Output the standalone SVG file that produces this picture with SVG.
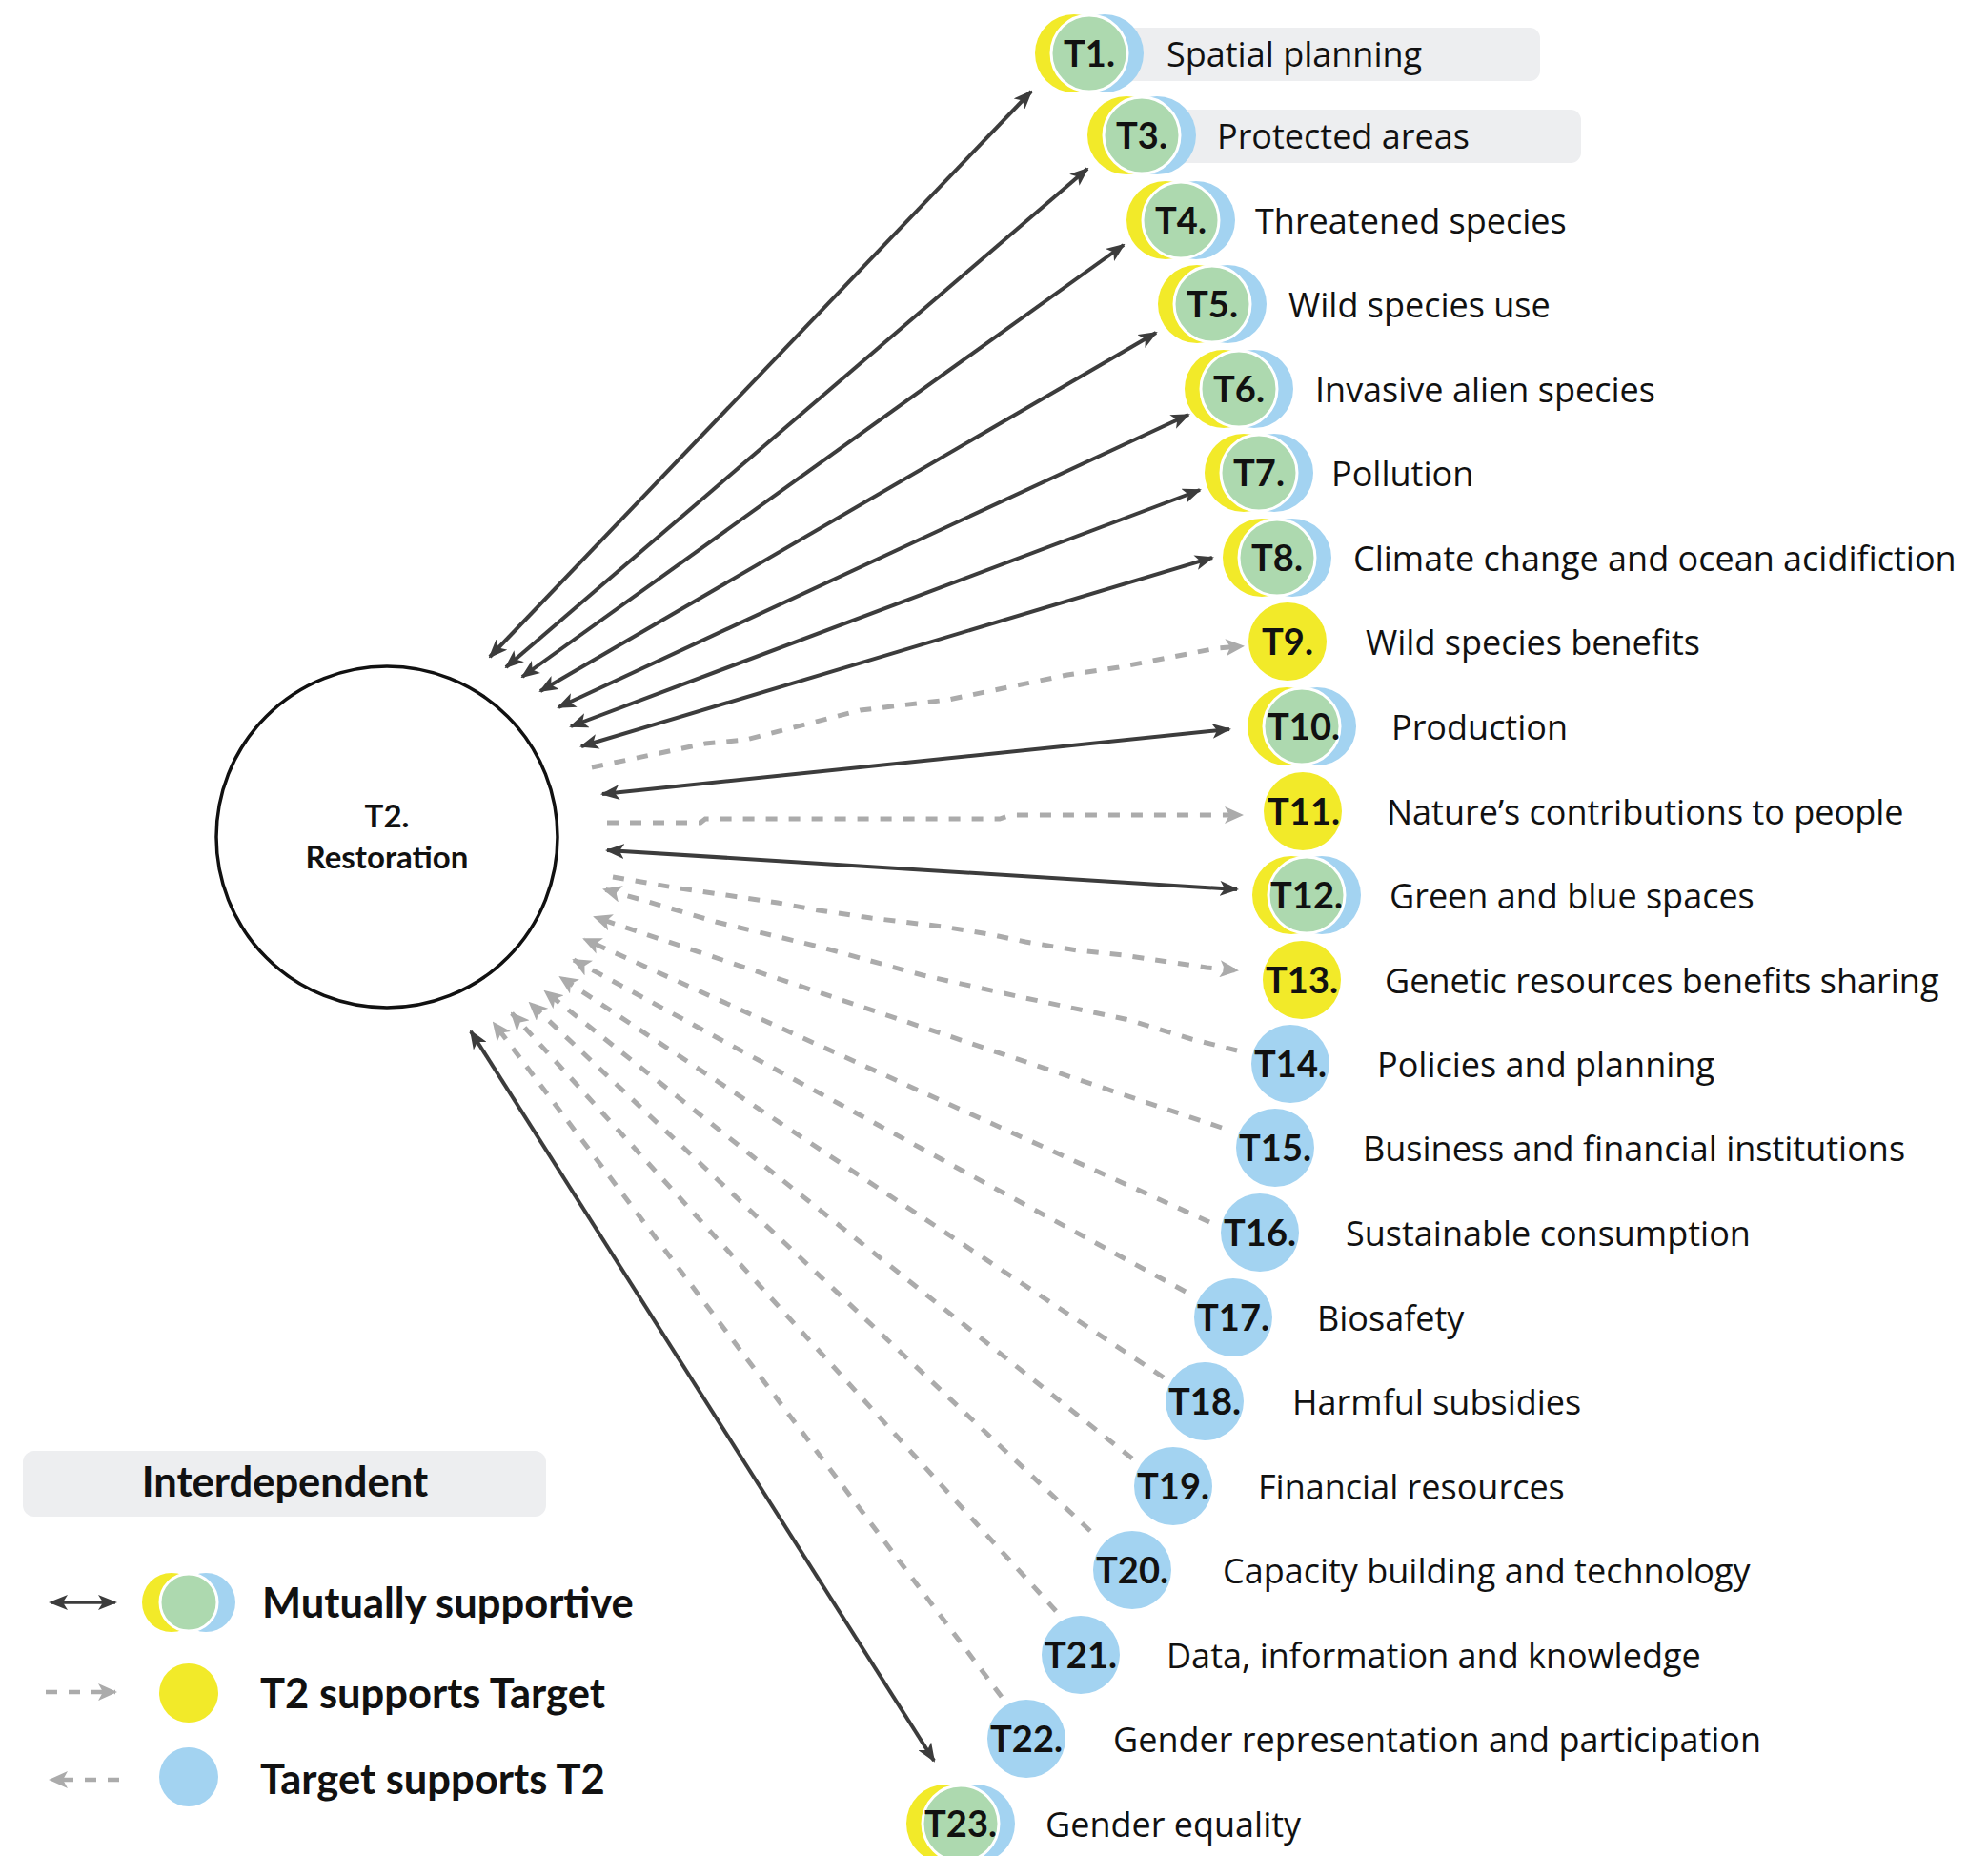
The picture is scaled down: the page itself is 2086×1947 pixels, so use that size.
<svg xmlns="http://www.w3.org/2000/svg" width="2086" height="1947" viewBox="0 0 2086 1947">
<style>
.lbl{font-family:"Open Sans","DejaVu Sans",sans-serif;font-size:36px;fill:#111}
.id{font-family:Lato,"Liberation Sans",sans-serif;font-weight:700;font-size:38px;fill:#111;text-anchor:middle}
.lg{font-family:Lato,"Liberation Sans",sans-serif;font-weight:700;font-size:43.5px;fill:#111}
.box{fill:#EDEEF0}
.y{fill:#F2EA29}
.g{fill:#ADD9AF;stroke:#fff;stroke-width:3}
.b{fill:#A3D3F1}
.sol{fill:none;stroke:#3C3C3C;stroke-width:4;marker-start:url(#ad);marker-end:url(#ad)}
.dsh{fill:none;stroke:#ABABAB;stroke-width:5;stroke-dasharray:12 12;marker-end:url(#ag)}
</style>
<defs>
<marker id="ad" viewBox="0 0 20 16" markerWidth="20" markerHeight="16" refX="18" refY="8" orient="auto-start-reverse" markerUnits="userSpaceOnUse"><path d="M0,0 L20,8 L0,16 L5,8 Z" fill="#3C3C3C"/></marker>
<marker id="ag" viewBox="0 0 20 18" markerWidth="20" markerHeight="18" refX="18" refY="9" orient="auto" markerUnits="userSpaceOnUse"><path d="M0,0 L20,9 L0,18 L5,9 Z" fill="#ABABAB"/></marker>
</defs>
<rect width="2086" height="1947" fill="#fff"/>

<g id="connectors">
<line class="sol" x1="514" y1="689" x2="1082" y2="96"/>
<line class="sol" x1="531" y1="700" x2="1141" y2="177"/>
<line class="sol" x1="548" y1="710" x2="1179" y2="257"/>
<line class="sol" x1="567" y1="725" x2="1213" y2="349"/>
<line class="sol" x1="586" y1="742" x2="1247" y2="435"/>
<line class="sol" x1="599" y1="762" x2="1259" y2="514"/>
<line class="sol" x1="610" y1="783" x2="1272" y2="585"/>
<polyline class="dsh" points="621,805 740,780 783,776 903,745 995,734 1120,708 1174,700 1277,680 1304,678"/>
<line class="sol" x1="632" y1="833" x2="1290" y2="765"/>
<polyline class="dsh" points="637,863 735,863 740,859 1049,859 1061,855 1303,855"/>
<line class="sol" x1="637" y1="892" x2="1298" y2="933"/>
<polyline class="dsh" points="643,920 713,932 762,939 816,947 859,955 914,963 989,972 1038,980 1076,988 1130,997 1179,1002 1266,1015 1298,1018"/>
<polyline class="dsh" points="1298,1102 1250,1090 1185,1070 1076,1047 968,1023 859,993 751,967 670,943 634,933"/>
<line class="dsh" x1="1282" y1="1183" x2="624" y2="962"/>
<line class="dsh" x1="1269" y1="1282" x2="613" y2="985"/>
<line class="dsh" x1="1244" y1="1355" x2="602" y2="1007"/>
<line class="dsh" x1="1221" y1="1445" x2="588" y2="1025"/>
<line class="dsh" x1="1188" y1="1530" x2="572" y2="1040"/>
<line class="dsh" x1="1144" y1="1606" x2="556" y2="1052"/>
<line class="dsh" x1="1108" y1="1690" x2="537" y2="1063"/>
<line class="dsh" x1="1051" y1="1780" x2="518" y2="1073"/>
<line class="sol" x1="494" y1="1082" x2="980" y2="1847"/>
</g>

<g id="T2">
<circle cx="406" cy="878" r="179" fill="#fff" stroke="#111" stroke-width="3.5"/>
<text class="id" x="406" y="868" style="font-size:33px">T2.</text>
<text class="id" x="406" y="911" style="font-size:33px">Restoration</text>
</g>

<g id="T1"><rect class="box" x="1143" y="29" width="473" height="56" rx="11"/><circle class="b" cx="1159" cy="56" r="41"/><circle class="y" cx="1127" cy="56" r="41"/><circle class="g" cx="1143" cy="56" r="40"/><text class="id" x="1143" y="70">T1.</text><text class="lbl" x="1224" y="70">Spatial planning</text></g>
<g id="T3"><rect class="box" x="1198" y="115" width="461" height="56" rx="11"/><circle class="b" cx="1214" cy="142" r="41"/><circle class="y" cx="1182" cy="142" r="41"/><circle class="g" cx="1198" cy="142" r="40"/><text class="id" x="1198" y="156">T3.</text><text class="lbl" x="1277" y="156">Protected areas</text></g>
<g id="T4"><circle class="b" cx="1255" cy="231" r="41"/><circle class="y" cx="1223" cy="231" r="41"/><circle class="g" cx="1239" cy="231" r="40"/><text class="id" x="1239" y="245">T4.</text><text class="lbl" x="1317" y="245">Threatened species</text></g>
<g id="T5"><circle class="b" cx="1288" cy="319" r="41"/><circle class="y" cx="1256" cy="319" r="41"/><circle class="g" cx="1272" cy="319" r="40"/><text class="id" x="1272" y="333">T5.</text><text class="lbl" x="1352" y="333">Wild species use</text></g>
<g id="T6"><circle class="b" cx="1316" cy="408" r="41"/><circle class="y" cx="1284" cy="408" r="41"/><circle class="g" cx="1300" cy="408" r="40"/><text class="id" x="1300" y="422">T6.</text><text class="lbl" x="1380" y="422">Invasive alien species</text></g>
<g id="T7"><circle class="b" cx="1337" cy="496" r="41"/><circle class="y" cx="1305" cy="496" r="41"/><circle class="g" cx="1321" cy="496" r="40"/><text class="id" x="1321" y="510">T7.</text><text class="lbl" x="1397" y="510">Pollution</text></g>
<g id="T8"><circle class="b" cx="1356" cy="585" r="41"/><circle class="y" cx="1324" cy="585" r="41"/><circle class="g" cx="1340" cy="585" r="40"/><text class="id" x="1340" y="599">T8.</text><text class="lbl" x="1420" y="599">Climate change and ocean acidifiction</text></g>
<g id="T9"><circle class="y" cx="1351" cy="673" r="41"/><text class="id" x="1351" y="687">T9.</text><text class="lbl" x="1433" y="687">Wild species benefits</text></g>
<g id="T10"><circle class="b" cx="1382" cy="762" r="41"/><circle class="y" cx="1350" cy="762" r="41"/><circle class="g" cx="1366" cy="762" r="40"/><text class="id" x="1368" y="776">T10.</text><text class="lbl" x="1460" y="776">Production</text></g>
<g id="T11"><circle class="y" cx="1367" cy="851" r="41"/><text class="id" x="1368" y="865">T11.</text><text class="lbl" x="1455" y="865">Nature’s contributions to people</text></g>
<g id="T12"><circle class="b" cx="1387" cy="939" r="41"/><circle class="y" cx="1355" cy="939" r="41"/><circle class="g" cx="1371" cy="939" r="40"/><text class="id" x="1371" y="953">T12.</text><text class="lbl" x="1458" y="953">Green and blue spaces</text></g>
<g id="T13"><circle class="y" cx="1366" cy="1028" r="41"/><text class="id" x="1366" y="1042">T13.</text><text class="lbl" x="1453" y="1042">Genetic resources benefits sharing</text></g>
<g id="T14"><circle class="b" cx="1354" cy="1116" r="41"/><text class="id" x="1354" y="1130">T14.</text><text class="lbl" x="1445" y="1130">Policies and planning</text></g>
<g id="T15"><circle class="b" cx="1338" cy="1204" r="41"/><text class="id" x="1338" y="1218">T15.</text><text class="lbl" x="1430" y="1218">Business and financial institutions</text></g>
<g id="T16"><circle class="b" cx="1322" cy="1293" r="41"/><text class="id" x="1322" y="1307">T16.</text><text class="lbl" x="1412" y="1307">Sustainable consumption</text></g>
<g id="T17"><circle class="b" cx="1294" cy="1382" r="41"/><text class="id" x="1294" y="1396">T17.</text><text class="lbl" x="1382" y="1396">Biosafety</text></g>
<g id="T18"><circle class="b" cx="1264" cy="1470" r="41"/><text class="id" x="1264" y="1484">T18.</text><text class="lbl" x="1356" y="1484">Harmful subsidies</text></g>
<g id="T19"><circle class="b" cx="1231" cy="1559" r="41"/><text class="id" x="1231" y="1573">T19.</text><text class="lbl" x="1320" y="1573">Financial resources</text></g>
<g id="T20"><circle class="b" cx="1188" cy="1647" r="41"/><text class="id" x="1188" y="1661">T20.</text><text class="lbl" x="1283" y="1661">Capacity building and technology</text></g>
<g id="T21"><circle class="b" cx="1134" cy="1736" r="41"/><text class="id" x="1134" y="1750">T21.</text><text class="lbl" x="1224" y="1750">Data, information and knowledge</text></g>
<g id="T22"><circle class="b" cx="1077" cy="1824" r="41"/><text class="id" x="1077" y="1838">T22.</text><text class="lbl" x="1168" y="1838">Gender representation and participation</text></g>
<g id="T23"><circle class="b" cx="1024" cy="1913" r="41"/><circle class="y" cx="992" cy="1913" r="41"/><circle class="g" cx="1008" cy="1913" r="40"/><text class="id" x="1008" y="1927">T23.</text><text class="lbl" x="1097" y="1927">Gender equality</text></g>

<g id="legend">
<rect class="box" x="24" y="1522" width="549" height="69" rx="12"/>
<text class="lg" x="299" y="1570" text-anchor="middle">Interdependent</text>
<line class="sol" x1="53" y1="1681" x2="121" y2="1681" style="stroke-width:3.5"/>
<circle class="b" cx="216" cy="1681" r="31"/><circle class="y" cx="180" cy="1681" r="31"/><circle class="g" cx="198" cy="1681" r="30"/>
<text class="lg" x="275" y="1697">Mutually supportive</text>
<line class="dsh" x1="48" y1="1775" x2="121" y2="1775" style="stroke-width:4.5"/>
<circle class="y" cx="198" cy="1776" r="31"/>
<text class="lg" x="273" y="1792">T2 supports Target</text>
<line class="dsh" x1="125" y1="1867" x2="53" y2="1867" style="stroke-width:4.5"/>
<circle class="b" cx="198" cy="1864" r="31"/>
<text class="lg" x="273" y="1882">Target supports T2</text>
</g>
</svg>
